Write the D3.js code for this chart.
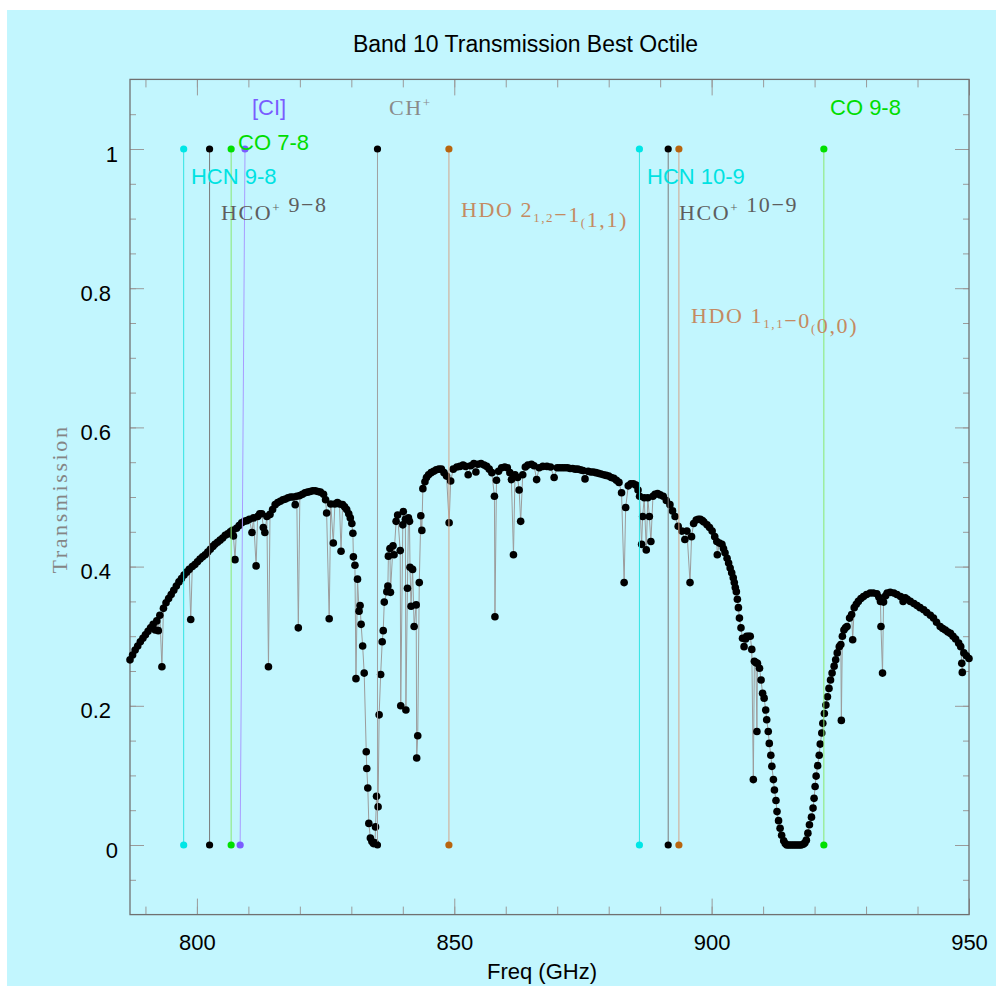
<!DOCTYPE html>
<html><head><meta charset="utf-8">
<script src="https://cdn.jsdelivr.net/npm/d3@7"></script>
<style>
html,body{margin:0;padding:0;background:#fff;}
svg{display:block;}
</style></head><body>
<svg id="chart" width="996" height="986"></svg>
<script>
// ---- data: atmospheric transmission, [frequency GHz, transmission] ----
const transmissionCurve = [
[787.0,0.266],[787.5,0.273],[788.0,0.280],[788.5,0.286],[789.0,0.292],[789.5,0.297],[790.0,0.302],[790.5,0.307],
[791.0,0.312],[791.5,0.317],[791.9,0.309],[792.2,0.322],[792.5,0.308],[792.8,0.330],[793.2,0.256],[793.5,0.340],
[794.0,0.348],[794.5,0.354],[795.0,0.360],[795.5,0.366],[796.0,0.372],[796.5,0.378],[797.0,0.383],[797.5,0.388],
[798.0,0.392],[798.5,0.396],[798.8,0.324],[799.1,0.400],[799.6,0.403],[800.1,0.407],[800.6,0.411],[801.1,0.414],
[801.6,0.417],[802.1,0.421],[802.6,0.425],[803.1,0.429],[803.5,0.432],[804.0,0.435],[804.5,0.438],[805.0,0.441],
[805.5,0.445],[806.0,0.447],[806.5,0.450],[806.9,0.452],[807.1,0.444],[807.4,0.410],[807.7,0.455],[808.2,0.459],
[808.7,0.463],[809.2,0.465],[809.7,0.466],[810.2,0.468],[810.7,0.449],[811.0,0.470],[811.5,0.401],[811.8,0.472],
[812.2,0.476],[812.6,0.476],[812.9,0.456],[813.2,0.449],[813.6,0.472],[813.9,0.256],[814.2,0.475],[814.7,0.482],
[815.2,0.489],[815.7,0.492],[816.2,0.494],[816.7,0.496],[817.2,0.497],[817.7,0.499],[818.2,0.500],[818.7,0.500],
[819.1,0.489],[819.4,0.501],[819.7,0.312],[820.0,0.502],[820.5,0.504],[821.0,0.506],[821.5,0.507],[822.0,0.508],
[822.5,0.509],[823.0,0.509],[823.5,0.508],[824.0,0.507],[824.6,0.504],[825.0,0.496],[825.2,0.477],[825.7,0.325],
[826.0,0.490],[826.5,0.434],[826.8,0.490],[827.3,0.492],[827.7,0.490],[828.0,0.422],[828.3,0.489],[828.7,0.486],
[829.1,0.482],[829.5,0.476],[829.8,0.470],[830.1,0.462],[830.3,0.448],[830.4,0.414],[830.7,0.402],[830.9,0.239],
[831.2,0.382],[831.5,0.336],[831.7,0.344],[831.9,0.317],[832.2,0.286],[832.5,0.247],[832.9,0.134],[833.0,0.110],
[833.2,0.082],[833.4,0.031],[833.7,0.010],[834.0,0.005],[834.3,0.002],[834.6,0.003],[834.7,0.026],[834.9,0.070],
[835.2,0.055],[835.4,0.187],[835.7,0.245],[836.0,0.292],[836.2,0.308],[836.4,0.349],[836.9,0.364],[837.1,0.372],
[837.2,0.415],[837.5,0.426],[837.6,0.363],[838.1,0.430],[838.3,0.417],[838.7,0.465],[839.0,0.474],[839.5,0.423],
[839.6,0.200],[840.0,0.460],[840.1,0.479],[840.5,0.468],[840.6,0.194],[840.9,0.369],[841.1,0.470],[841.3,0.465],
[841.4,0.399],[841.6,0.343],[841.9,0.396],[842.2,0.314],[842.6,0.345],[842.7,0.125],[842.9,0.157],[843.2,0.377],
[843.5,0.473],[843.7,0.452],[843.9,0.512],[844.3,0.522],[844.6,0.528],[845.0,0.532],[845.5,0.535],[846.0,0.537],
[846.5,0.539],[847.0,0.540],[847.5,0.540],[848.0,0.535],[848.5,0.530],[849.0,0.463],[849.3,0.523],[849.8,0.540],
[850.5,0.543],[851.1,0.544],[851.7,0.546],[852.2,0.544],[852.7,0.532],[853.2,0.545],[853.8,0.548],[854.2,0.536],
[854.6,0.547],[855.2,0.548],[855.8,0.546],[856.3,0.544],[856.8,0.540],[857.3,0.535],[857.8,0.501],[857.9,0.328],
[858.2,0.524],[858.6,0.537],[859.2,0.542],[859.8,0.543],[860.3,0.542],[860.8,0.535],[861.1,0.525],[861.5,0.417],
[861.8,0.532],[862.3,0.528],[862.6,0.510],[862.9,0.465],[863.3,0.532],[863.8,0.543],[864.3,0.546],[865.0,0.547],
[865.5,0.545],[866.0,0.525],[866.5,0.542],[867.2,0.544],[868.0,0.544],[868.7,0.543],[869.4,0.528],[870.0,0.542],
[870.5,0.542],[871.0,0.542],[871.5,0.542],[872.0,0.542],[872.5,0.541],[873.0,0.541],[873.5,0.540],[874.0,0.540],
[874.5,0.539],[875.0,0.538],[875.4,0.526],[876.0,0.537],[876.5,0.536],[877.0,0.536],[877.5,0.535],[878.0,0.534],
[878.5,0.533],[879.0,0.532],[879.5,0.531],[880.0,0.530],[880.5,0.528],[881.0,0.527],[881.5,0.524],[882.0,0.521],
[882.5,0.506],[883.0,0.377],[883.3,0.485],[883.8,0.516],[884.3,0.519],[884.8,0.519],[885.3,0.517],[885.7,0.510],
[886.0,0.501],[886.4,0.432],[886.6,0.472],[886.9,0.499],[887.3,0.424],[887.6,0.499],[887.9,0.472],[888.2,0.436],
[888.6,0.501],[889.0,0.504],[889.5,0.505],[890.0,0.503],[890.6,0.501],[891.2,0.495],[891.9,0.489],[892.4,0.480],
[892.9,0.472],[893.5,0.458],[894.2,0.451],[894.8,0.439],[895.2,0.451],[895.8,0.377],[896.1,0.443],[896.5,0.462],
[897.0,0.467],[897.4,0.468],[897.8,0.468],[898.2,0.466],[898.5,0.464],[899.1,0.460],[899.6,0.456],[900.1,0.451],
[900.6,0.443],[901.0,0.436],[901.1,0.417],[901.5,0.434],[902.0,0.432],[902.3,0.426],[902.6,0.420],[903.0,0.412],
[903.3,0.405],[903.6,0.398],[903.9,0.391],[904.2,0.384],[904.4,0.377],[904.6,0.370],[904.8,0.364],[905.0,0.353],
[905.2,0.341],[905.4,0.326],[905.7,0.312],[906.0,0.297],[906.3,0.285],[906.6,0.296],[906.8,0.300],[907.2,0.300],
[907.5,0.300],[907.8,0.281],[908.1,0.094],[908.3,0.264],[908.6,0.262],[908.8,0.163],[908.9,0.261],[909.3,0.254],
[909.6,0.237],[909.9,0.218],[910.2,0.211],[910.5,0.194],[910.7,0.180],[911.0,0.163],[911.2,0.146],[911.5,0.129],
[911.7,0.113],[912.0,0.094],[912.2,0.079],[912.5,0.064],[912.7,0.048],[913.0,0.035],[913.3,0.024],[913.6,0.014],
[914.0,0.006],[914.3,0.002],[914.6,0.000],[915.0,0.000],[915.4,0.000],[915.8,0.000],[916.2,0.000],[916.6,0.000],
[917.0,0.000],[917.4,0.000],[917.8,0.001],[918.1,0.003],[918.4,0.007],[918.7,0.017],[919.0,0.029],[919.4,0.040],
[919.7,0.053],[919.9,0.067],[920.1,0.084],[920.3,0.099],[920.6,0.114],[920.9,0.129],[921.1,0.145],[921.4,0.161],
[921.6,0.175],[921.9,0.189],[922.2,0.201],[922.5,0.213],[922.8,0.225],[923.1,0.237],[923.4,0.247],[923.8,0.257],
[924.1,0.266],[924.4,0.276],[924.8,0.285],[925.1,0.288],[925.2,0.179],[925.4,0.300],[925.7,0.309],[926.0,0.312],
[926.3,0.314],[926.8,0.326],[927.2,0.331],[927.4,0.295],[927.7,0.341],[928.1,0.346],[928.5,0.350],[929.0,0.354],
[929.5,0.357],[930.1,0.360],[930.8,0.362],[931.4,0.362],[932.1,0.361],[932.5,0.356],[932.8,0.350],[932.9,0.314],
[933.2,0.247],[933.4,0.349],[933.8,0.358],[934.1,0.362],[934.7,0.363],[935.4,0.362],[936.0,0.360],[936.7,0.357],
[937.2,0.350],[937.6,0.355],[938.0,0.353],[938.6,0.350],[939.3,0.347],[939.9,0.344],[940.5,0.341],[941.2,0.338],
[941.8,0.334],[942.5,0.330],[943.1,0.326],[943.7,0.320],[944.4,0.314],[944.9,0.311],[945.4,0.309],[945.9,0.306],
[946.4,0.304],[946.9,0.300],[947.4,0.296],[948.0,0.290],[948.4,0.285],[948.6,0.261],[948.7,0.248],[949.0,0.276],
[949.5,0.272],[950.0,0.268]
];

// ---- spectral lines ----
const lineSpecies   = ["HCN","HCO+","CO","CI","CH+","HDO","HCN","HCO+","HDO","CO"];
const lineFreqTop   = [797.43, 802.46, 806.65, 809.34, 835.08, 848.96, 885.97, 891.56, 893.64, 921.80];
const lineFreqBase  = [797.43, 802.46, 806.65, 808.40, 835.08, 848.96, 885.97, 891.56, 893.64, 921.80];
const lineTopValue = 1, lineBaseValue = 0;

// label texts (segments: [text, "sup"|"sub"|""]), anchored in data coordinates [GHz, transmission]
const labelSpecies = ["CI","CH+","CO","HCN","HCO+","HDO","HCN","HCO+","HDO","CO"];
const labelAnchor  = [[810.7,1.049],[837.3,1.049],[808.0,0.999],[798.85,0.950],[804.7,0.898],
                      [851.3,0.903],[887.45,0.950],[893.65,0.898],[896.0,0.750],[923.0,1.049]];
const labelText = [
  [["[CI]",""]],
  [["CH",""],["+","sup"]],
  [["CO 7-8",""]],
  [["HCN 9-8",""]],
  [["HCO",""],["+","sup"],[" 9\u22128",""]],
  [["HDO 2",""],["1,2","sub"],["\u22121",""],["(","sub"],["1,1)",""]],
  [["HCN 10-9",""]],
  [["HCO",""],["+","sup"],[" 10\u22129",""]],
  [["HDO 1",""],["1,1","sub"],["\u22120",""],["(","sub"],["0,0)",""]],
  [["CO 9-8",""]]
];

const xMajorTicks = [800, 850, 900, 950];
const xMinorTicks = [790, 800, 810, 820, 830, 840, 850, 860, 870, 880, 890, 900, 910, 920, 930, 940, 950];
const yMajorTicks = [0, 0.2, 0.4, 0.6, 0.8, 1];
const yMinorTicks = [-0.05,0,0.05,0.1,0.15,0.2,0.25,0.3,0.35,0.4,0.45,0.5,0.55,0.6,0.65,0.7,0.75,0.8,0.85,0.9,0.95,1,1.05];

// ---- styles ----
const speciesStyle = {
  "HCN": {dot:"#00e6e6", line:"#30e4e4", text:"#00e2e2", serif:false},
  "HCO+":{dot:"#000000", line:"#7a7a7a", text:"#5e5e5e", serif:true},
  "CO":  {dot:"#00e000", line:"#8ae870", text:"#00dd00", serif:false},
  "CI":  {dot:"#7a5cff", line:"#a89cff", text:"#7a5cff", serif:false},
  "CH+": {dot:"#000000", line:"#a0a0a0", text:"#8a8a8a", serif:true},
  "HDO": {dot:"#b8650f", line:"#d4a58a", text:"#c48a62", serif:true}
};
const SANS = "'Liberation Sans', Arial, Helvetica, sans-serif";
const SERIF = "'Liberation Serif', 'Times New Roman', serif";

const W = 996, H = 986;
const svg = d3.select("#chart");
svg.append("rect").attr("x",7).attr("y",10).attr("width",W-7).attr("height",H-10).attr("fill","#c2f6fe");

const x = d3.scaleLinear().domain([787, 950]).range([130, 969]);
const y = d3.scaleLinear().domain([-0.1, 1.1]).range([914.6, 79.4]);

// title & axis labels
svg.append("text").attr("x",525.5).attr("y",52).attr("text-anchor","middle")
  .attr("font-family",SANS).attr("font-size",23).attr("fill","#000")
  .text("Band 10 Transmission Best Octile");
svg.append("text").attr("x",542).attr("y",979).attr("text-anchor","middle")
  .attr("font-family",SANS).attr("font-size",22).attr("fill","#000").text("Freq (GHz)");
svg.append("text").attr("transform","translate(67,499) rotate(-90)").attr("text-anchor","middle")
  .attr("font-family",SERIF).attr("font-size",22).attr("letter-spacing","2.6px").attr("fill","#858585")
  .text("Transmission");

// axes (ticks inward)
function axisGroup(axis, tr){
  const g = svg.append("g").attr("transform",tr).call(axis);
  g.select(".domain").remove();
  g.selectAll(".tick line").attr("stroke","#9a9a9a").attr("stroke-width",1);
  g.attr("font-family",SANS).attr("font-size",22);
  g.selectAll(".tick text").attr("fill","#000");
  return g;
}
const yB = y(-0.1), yT = y(1.1), xL = x(787), xR = x(950);
axisGroup(d3.axisBottom(x).tickValues(xMinorTicks).tickSize(-8).tickFormat(""), `translate(0,${yB})`);
axisGroup(d3.axisTop(x).tickValues(xMinorTicks).tickSize(-8).tickFormat(""), `translate(0,${yT})`);
axisGroup(d3.axisBottom(x).tickValues(xMajorTicks).tickSize(-16).tickPadding(20).tickFormat(d3.format("d")), `translate(0,${yB})`);
axisGroup(d3.axisTop(x).tickValues(xMajorTicks).tickSize(-16).tickFormat(""), `translate(0,${yT})`);
axisGroup(d3.axisLeft(y).tickValues(yMinorTicks).tickSize(-6).tickFormat(""), `translate(${xL},0)`);
axisGroup(d3.axisRight(y).tickValues(yMinorTicks).tickSize(-6).tickFormat(""), `translate(${xR},0)`);
const yl = axisGroup(d3.axisLeft(y).tickValues(yMajorTicks).tickSize(-14).tickFormat(d => String(+d.toFixed(2))), `translate(${xL},0)`);
yl.selectAll(".tick text").attr("font-size",22).attr("dy","0.55em")
  .attr("x", d => Number.isInteger(d) ? -12 : -19);
axisGroup(d3.axisRight(y).tickValues(yMajorTicks).tickSize(-14).tickFormat(""), `translate(${xR},0)`);

// frame
svg.append("rect").attr("x",xL).attr("y",yT).attr("width",xR-xL).attr("height",yB-yT)
  .attr("fill","none").attr("stroke","#707070").attr("stroke-width",1.3);

// transmission curve: thin connecting line + dots
svg.append("path").datum(transmissionCurve)
  .attr("d", d3.line().x(d=>x(d[0])).y(d=>y(d[1])))
  .attr("fill","none").attr("stroke","#9c9c9c").attr("stroke-width",1);
svg.append("g").selectAll("circle").data(transmissionCurve).join("circle")
  .attr("cx",d=>x(d[0])).attr("cy",d=>y(d[1])).attr("r",3.8).attr("fill","#000");

// spectral lines
const lines = lineSpecies.map((s,i)=>({s, ft:lineFreqTop[i], fb:lineFreqBase[i]}));
const lg = svg.append("g");
lg.selectAll("line").data(lines).join("line")
  .attr("x1",d=>x(d.fb)).attr("y1",y(lineBaseValue)).attr("x2",d=>x(d.ft)).attr("y2",y(lineTopValue))
  .attr("stroke",d=>speciesStyle[d.s].line).attr("stroke-width",1);
lg.selectAll("circle.top").data(lines).join("circle").attr("class","top")
  .attr("cx",d=>x(d.ft)).attr("cy",y(lineTopValue)).attr("r",3.6).attr("fill",d=>speciesStyle[d.s].dot);
lg.selectAll("circle.base").data(lines).join("circle").attr("class","base")
  .attr("cx",d=>x(d.fb)).attr("cy",y(lineBaseValue)).attr("r",3.6).attr("fill",d=>speciesStyle[d.s].dot);

// line labels
labelSpecies.forEach((s,i)=>{
  const st = speciesStyle[s];
  const t = svg.append("text").attr("x",x(labelAnchor[i][0])).attr("y",y(labelAnchor[i][1]))
    .attr("font-family", st.serif ? SERIF : SANS).attr("font-size",22).attr("fill",st.text)
    .style("white-space","pre");
  if (st.serif) t.attr("letter-spacing","1.6px");
  labelText[i].forEach(([txt,kind])=>{
    if (kind==="sup") {
      t.append("tspan").attr("dy",-8).attr("font-size",13).text(txt);
      t.append("tspan").attr("dy",8).text("");
    } else if (kind==="sub") {
      t.append("tspan").attr("dy",5).attr("font-size",13).text(txt);
      t.append("tspan").attr("dy",-5).text("");
    } else {
      t.append("tspan").text(txt);
    }
  });
});
</script>
</body></html>
